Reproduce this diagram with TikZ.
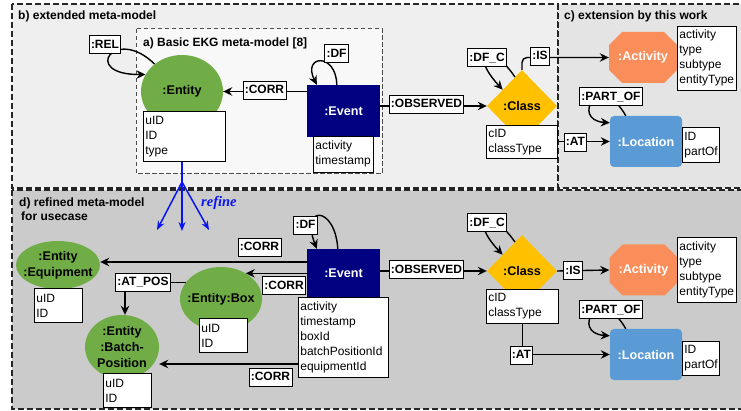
\documentclass[tikz,border=0pt]{standalone}
\usepackage{fontspec}
\setmainfont{Liberation Sans}
\newfontfamily\refinefont{Liberation Serif}
\usetikzlibrary{arrows.meta,shapes.geometric,calc}
\definecolor{entgreen}{HTML}{70AD47}
\definecolor{clsgold}{HTML}{FFC000}
\definecolor{locblue}{HTML}{5B9BD5}
\definecolor{actorange}{HTML}{FA8E5A}
\definecolor{evnavy}{HTML}{000080}
\definecolor{bgB}{HTML}{EFEFEF}
\definecolor{bgA}{HTML}{F8F8F8}
\definecolor{bgC}{HTML}{E4E4E4}
\definecolor{bgD}{HTML}{CBCBCB}
\definecolor{refblue}{HTML}{0A14F0}
% centred line of zero width, so that the ellipse size is set by its minimum size only
\newcommand{\cl}[1]{\makebox[0pt][c]{#1}}
\tikzset{
  panel/.style={dash pattern=on 6pt off 3pt, line width=1.3pt, draw=black!85},
  innerpanel/.style={dash pattern=on 4.5pt off 2.5pt, line width=1pt, draw=black!70},
  title/.style={font=\bfseries\fontsize{12}{15}\selectfont, anchor=base west, inner sep=0pt, align=left},
  lbl/.style={draw, fill=white, line width=0.9pt, font=\bfseries\fontsize{12}{14}\selectfont,
    inner xsep=1.8pt, inner ysep=0pt, minimum height=18pt, text height=9pt, text depth=1.5pt},
  attr/.style={draw, fill=white, line width=0.8pt, anchor=north west, align=left,
    inner xsep=2pt, inner ysep=1pt, font=\fontsize{12}{15}\selectfont},
  nodefont/.style={font=\bfseries\fontsize{12.6}{16}\selectfont},
  entity/.style={ellipse, fill=entgreen, inner sep=0pt, nodefont, align=center},
  eventbox/.style={fill=evnavy, text=white, inner sep=0pt, nodefont},
  classbox/.style={diamond, fill=clsgold, inner sep=0pt, minimum width=70pt, minimum height=72pt, nodefont},
  locbox/.style={fill=locblue, rounded corners=4pt, text=white, inner sep=0pt,
    minimum width=72pt, minimum height=51pt, nodefont},
  actlabel/.style={text=white, inner sep=0pt, minimum width=68pt, minimum height=51pt, nodefont},
  octagon/.style={fill=actorange},
  conn/.style={line width=1.4pt, -{Stealth[length=9pt,width=8.5pt]}},
  refine/.style={draw=refblue, line width=1.5pt, -{Stealth[length=9pt,width=7pt]}},
}
\begin{document}
\begin{tikzpicture}[x=1pt,y=-1pt]
\useasboundingbox (0,0) rectangle (741,411);
\clip (0,0) rectangle (741,411);

% ---------- panels ----------
\fill[white] (0,0) rectangle (741,411);
\filldraw[fill=bgB, panel] (12,4) rectangle (558,188);
\filldraw[fill=bgC, panel] (558,4) rectangle (748,188);
\filldraw[fill=bgA, innerpanel] (136,29) rectangle (382,174);
\filldraw[fill=bgD, panel] (12,190) rectangle (748,409);

\node[title] (tb) at (18,20) {b) extended meta-model};
\node[title] (tc) at (564,20) {c) extension by this work};
\node[title] (ta) at (143,47) {a) Basic EKG meta-model [8]};
\node[title] (td) at (19,221) {d) refined meta-model\\[-0.5pt]\hspace*{2pt}for usecase};

% ---------- top: basic and extended meta-model ----------
\node[entity, minimum width=82pt, minimum height=73pt] (ent) at (182,91.5) {\cl{:Entity}};
\node[eventbox, minimum width=73pt, minimum height=52pt] (ev) at (343.5,111) {:Event};
\node[classbox] (cls) at (522,106) {:Class};
\fill[octagon, shift={(643,57.5)}] (-34,-12.5) -- (-21,-25.5) -- (21,-25.5) -- (34,-12.5)
  -- (34,12.5) -- (21,25.5) -- (-21,25.5) -- (-34,12.5) -- cycle;
\node[actlabel] (act) at (643,57.5) {:Activity};
\node[locbox] (loc) at (646,141.5) {:Location};

% relationships
\draw[conn] (ent.135) .. controls (115,25) and (80,75) .. (ent.155);
\draw[conn] (ev.west |- ent.east) -- (ent.east);
\draw[conn] ([xshift=30pt]ev.north west) .. controls (336,52) and (302,55) .. ([xshift=10pt]ev.north west);
\draw[conn] (ev.east |- cls.west) -- (cls.west);
\draw[conn] ($(cls.north)!0.2!(cls.west)$) .. controls (490,40) and (468,52) .. ($(cls.north)!0.55!(cls.west)$);
\draw[conn, rounded corners=5pt] (cls.north) |- (act.west);
\draw[conn] ([xshift=16pt]loc.north west) .. controls (600,70) and (570,120) .. ([yshift=-7pt]loc.north west);

% attribute boxes
\node[attr, text width=78pt, minimum height=50pt] (entattr) at (143,111) {uID\\ID\\type};
\node[attr, text width=56pt, minimum height=36pt] (evattr) at (313,136) {activity\\timestamp};
\node[attr, text width=67pt, minimum height=33pt] (clsattr) at (486,125) {cID\\classType};
\node[attr, text width=55pt, minimum height=64pt] (actattr) at (677,26) {activity\\type\\subtype\\entityType};
\node[attr, text width=33pt, minimum height=35pt] (locattr) at (682,127) {ID\\partOf};

\draw[conn] (clsattr.east |- loc.west) -- (loc.west);

% relationship labels
\node[lbl] (rel) at (105,44.5) {:REL};
\node[lbl] (corr) at (264.5,90) {:CORR};
\node[lbl] (df) at (336.5,53.5) {:DF};
\node[lbl] (obs) at (426.5,104) {:OBSERVED};
\node[lbl] (dfc) at (487,57.5) {:DF\_C};
\node[lbl] (is) at (540,56) {:IS};
\node[lbl] (partof) at (611,96.5) {:PART\_OF};
\node[lbl] (at) at (575.5,142) {:AT};

% ---------- refinement ----------
\coordinate (rf) at (182,182);
\coordinate (rf1) at (157,230);
\coordinate (rf2) at (182,231);
\coordinate (rf3) at (209,230);
\draw[refblue, line width=1.5pt] (entattr.south -| rf) -- (rf);
\draw[refine] (rf) -- (rf1);
\draw[refine] (rf) -- (rf2);
\draw[refine] (rf) -- (rf3);
\node[text=refblue, font=\refinefont\bfseries\itshape\fontsize{14.5}{16}\selectfont, anchor=base west, inner sep=0pt]
  (rft) at (201,207) {refine};

% ---------- bottom: refined meta-model ----------
\node[entity, minimum width=84pt, minimum height=48pt] (eq) at (58,265) {\cl{:Entity}\\\cl{:Equipment}};
\node[entity, minimum width=82pt, minimum height=64pt] (bx) at (221,299) {\cl{:Entity:Box}};
\node[entity, minimum width=74pt, minimum height=64pt] (bp) at (122,347) {\cl{:Entity}\\\cl{:Batch-}\\\cl{Position}};
\node[eventbox, minimum width=73pt, minimum height=48pt] (ev2) at (343.5,273) {:Event};
\node[classbox] (cls2) at (522,271) {:Class};
\fill[octagon, shift={(643.5,270)}] (-34,-12.5) -- (-21,-25.5) -- (21,-25.5) -- (34,-12.5)
  -- (34,12.5) -- (21,25.5) -- (-21,25.5) -- (-34,12.5) -- cycle;
\node[actlabel] (act2) at (643.5,270) {:Activity};
\node[locbox] (loc2) at (646,354.5) {:Location};

\coordinate (yeq) at (0,262);
\coordinate (ybp) at (0,364);
\draw[conn] (ev2.west |- yeq) -- (eq.east |- yeq);
\draw[conn] (ev2.west |- bx.46) -- (bx.46);
\draw[conn] (bx.155) -| ([xshift=3pt]bp.north);
\draw[conn] ([xshift=31pt]ev2.north west) .. controls (335,205) and (300,205) .. ([xshift=10pt]ev2.north west);
\draw[conn] (ev2.east |- cls2.west) -- (cls2.west);
\draw[conn] ($(cls2.north)!0.2!(cls2.west)$) .. controls (490,206) and (468,218) .. ($(cls2.north)!0.55!(cls2.west)$);
\draw[conn] (cls2.east) -- (act2.west);
\draw[conn] ([xshift=16pt]loc2.north west) .. controls (600,283) and (570,333) .. ([yshift=-7pt]loc2.north west);

\node[attr, text width=44pt, minimum height=34pt] (eqattr) at (34,288) {uID\\ID};
\node[attr, text width=44pt, minimum height=34pt] (bxattr) at (199,318) {uID\\ID};
\node[attr, text width=44pt, minimum height=34pt] (bpattr) at (103,373) {uID\\ID};
\node[attr, text width=86pt, minimum height=80pt] (ev2attr) at (298,297)
  {activity\\timestamp\\boxId\\batchPositionId\\equipmentId};
\node[attr, text width=68pt, minimum height=34pt] (cls2attr) at (486,289) {cID\\classType};
\node[attr, text width=55pt, minimum height=65pt] (act2attr) at (677,237) {activity\\type\\subtype\\entityType};
\node[attr, text width=33pt, minimum height=34pt] (loc2attr) at (682,341) {ID\\partOf};

\draw[conn] (ev2attr.west |- ybp) -- (bp.east |- ybp);
\draw[conn] (cls2attr.south) |- (loc2.west);

\node[lbl] (corr1) at (259.5,247) {:CORR};
\node[lbl] (corr2) at (284,285.5) {:CORR};
\node[lbl] (corr3) at (270.5,377) {:CORR};
\node[lbl] (atpos) at (143,282) {:AT\_POS};
\node[lbl] (df2) at (305.5,225) {:DF};
\node[lbl] (obs2) at (426.5,269.5) {:OBSERVED};
\node[lbl] (dfc2) at (487,222.5) {:DF\_C};
\node[lbl] (is2) at (573,270.5) {:IS};
\node[lbl] (partof2) at (611,309.5) {:PART\_OF};
\node[lbl] (at2) at (521.5,355) {:AT};
\end{tikzpicture}
\end{document}
